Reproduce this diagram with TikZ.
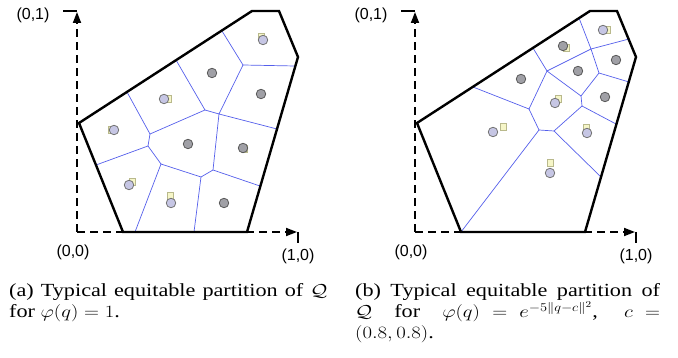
\documentclass[tikz,border=0pt]{standalone}
\usepackage{amsmath,amssymb}
\usepackage{fontspec}
\setmainfont{Liberation Serif}
\newfontfamily\axisfont{Liberation Sans}
\usetikzlibrary{arrows.meta}
\definecolor{cellcol}{RGB}{85,95,235}
\definecolor{sitegray}{RGB}{160,160,166}
\definecolor{sitelav}{RGB}{198,198,228}
\definecolor{sqfill}{RGB}{246,246,200}
\definecolor{sqdraw}{RGB}{185,185,140}
\newcommand{\Qset}{\mathcal{Q}}
\newcommand{\capbox}[2]{\scalebox{1.2}[1]{\parbox[t]{#1}{\fontsize{18.5}{21}\selectfont
  \spaceskip=0.25em plus 0.4em minus 0.08em \thickmuskip=5mu plus 3mu #2}}}

\begin{document}
\begin{tikzpicture}[x=1pt,y=-1pt,
   axisline/.style={line width=1.8pt,dash pattern=on 8pt off 5pt,
                    -{Triangle[length=11pt,width=8pt]}},
   axisbar/.style={line width=1.2pt},
   region/.style={line width=2.4pt,line join=miter},
   cell/.style={cellcol,line width=0.7pt},
   site/.style={circle,draw=black!65,fill=sitegray,inner sep=0pt,
                minimum size=9.5pt,line width=0.8pt},
   sitel/.style={site,draw=black!55,fill=sitelav},
   cent/.style={rectangle,draw=sqdraw,fill=sqfill,inner sep=0pt,
                minimum size=6.5pt,line width=0.5pt},
   lbl/.style={font=\axisfont\fontsize{16}{16}\selectfont,inner sep=0pt}]
  \useasboundingbox (0,0) rectangle (678,358);

  % axes and the region Q, same in both panels
  \foreach \s/\p in {0/a,338/b}{
    \begin{scope}[xshift=\s]
      \coordinate (o\p) at (77,232);
      \coordinate (y\p) at (77,12);
      \coordinate (x\p) at (297,232);
      \draw[axisline] (o\p) -- (y\p);
      \draw[axisline] (o\p) -- (x\p);
      \draw[axisbar] (y\p) ++(0,-1) -- ++(-14,0);
      \draw[axisbar] (x\p) ++(1,0) -- ++(0,11);
      \node[lbl] (l01\p) at (33,15) {(0,1)};
      \node[lbl] (l00\p) at (73,252) {(0,0)};
      \node[lbl] (l10\p) at (298,256) {(1,0)};
    \end{scope}
  }

  % panel (a): cells for phi = 1
  \coordinate (a-A) at (150,134);
  \coordinate (a-B) at (148,146);
  \coordinate (a-C) at (161,164);
  \coordinate (a-D) at (201,177);
  \coordinate (a-E) at (213,170);
  \coordinate (a-F) at (219,114);
  \coordinate (a-G) at (205,110);
  \coordinate (a-H) at (243,65);
  \coordinate (a-e1) at (127,92);
  \coordinate (a-e2) at (176,60);
  \coordinate (a-e3) at (222,31);
  \coordinate (a-e4) at (295,66);
  \coordinate (a-e5) at (277,129);
  \coordinate (a-e6) at (260,186);
  \coordinate (a-e7) at (194,232);
  \coordinate (a-e8) at (135,232);
  \coordinate (a-e9) at (96,165);
  \draw[cell] (a-e1) -- (a-A) -- (a-G) -- (a-e2);
  \draw[cell] (a-G) -- (a-F) -- (a-H) -- (a-e3);
  \draw[cell] (a-H) -- (a-e4);
  \draw[cell] (a-F) -- (a-e5);
  \draw[cell] (a-F) -- (a-E) -- (a-e6);
  \draw[cell] (a-E) -- (a-D) -- (a-e7);
  \draw[cell] (a-D) -- (a-C) -- (a-e8);
  \draw[cell] (a-C) -- (a-B) -- (a-e9);
  \draw[cell] (a-B) -- (a-A);

  % panel (b): cells for the gaussian density
  \begin{scope}[xshift=338]
    \coordinate (b-P) at (191,109);
    \coordinate (b-Q) at (201,130);
    \coordinate (b-R) at (216,131);
    \coordinate (b-T) at (209,71);
    \coordinate (b-U) at (253,49);
    \coordinate (b-V) at (261,73);
    \coordinate (b-W) at (243,96);
    \coordinate (b-X) at (244,106);
    \coordinate (b-e1) at (135,87);
    \coordinate (b-e2) at (195,48);
    \coordinate (b-e3) at (241,18);
    \coordinate (b-e4) at (291,39);
    \coordinate (b-e5) at (291,82);
    \coordinate (b-e6) at (278,124);
    \coordinate (b-e7) at (263,177);
    \coordinate (b-e8) at (123,232);
    \draw[cell] (b-e1) -- (b-P) -- (b-T) -- (b-e2);
    \draw[cell] (b-T) -- (b-U) -- (b-e3);
    \draw[cell] (b-U) -- (b-e4);
    \draw[cell] (b-U) -- (b-V) -- (b-e5);
    \draw[cell] (b-V) -- (b-W) -- (b-T);
    \draw[cell] (b-W) -- (b-X) -- (b-e6);
    \draw[cell] (b-X) -- (b-R) -- (b-e7);
    \draw[cell] (b-R) -- (b-Q) -- (b-P);
    \draw[cell] (b-Q) -- (b-e8);
  \end{scope}

  \foreach \s in {0,338}{
    \draw[region,xshift=\s] (79,123) -- (252,11) -- (279,11) -- (298,57)
         -- (247,232) -- (123,232) -- cycle;
  }

  % centroids and generators, panel (a)
  \node[cent] (a-c1) at (261,37) {};
  \node[cent] (a-c4) at (168,99) {};
  \node[cent] (a-c5) at (111,130) {};
  \node[cent] (a-c7) at (244,149) {};
  \node[cent] (a-c8) at (132,182) {};
  \node[cent] (a-c9) at (170,196) {};
  \node[sitel] (a-s1) at (263,40) {};
  \node[site] (a-s2) at (212,73) {};
  \node[site] (a-s3) at (261,94) {};
  \node[sitel] (a-s4) at (164,99) {};
  \node[sitel] (a-s5) at (114,130) {};
  \node[site] (a-s6) at (188,144) {};
  \node[site] (a-s7) at (243,148) {};
  \node[sitel] (a-s8) at (129,185) {};
  \node[sitel] (a-s9) at (171,203) {};
  \node[site] (a-s10) at (224,203) {};

  % centroids and generators, panel (b)
  \begin{scope}[xshift=338]
    \node[cent] (b-c1) at (269,30) {};
    \node[cent] (b-c2) at (228,48) {};
    \node[cent] (b-c6) at (220,99) {};
    \node[cent] (b-c8) at (165,127) {};
    \node[cent] (b-c9) at (248,128) {};
    \node[cent] (b-c10) at (212,163) {};
    \node[sitel] (b-s1) at (265,30) {};
    \node[site] (b-s2) at (225,46) {};
    \node[site] (b-s3) at (278,60) {};
    \node[site] (b-s4) at (240,71) {};
    \node[site] (b-s5) at (183,79) {};
    \node[sitel] (b-s6) at (217,103) {};
    \node[site] (b-s7) at (267,97) {};
    \node[sitel] (b-s8) at (155,132) {};
    \node[sitel] (b-s9) at (249,133) {};
    \node[sitel] (b-s10) at (212,173) {};
  \end{scope}

  % captions
  \node[anchor=base west,inner sep=0pt] (capa) at (9,297)
    {\capbox{265pt}{(a) Typical equitable partition of $\Qset$\linebreak
     for $\varphi(q)=1$.}};
  \node[anchor=base west,inner sep=0pt] (capb) at (355,297)
    {\capbox{254pt}{(b) Typical equitable partition of\linebreak
     $\Qset$ for $\varphi(q)=e^{-5\|q-c\|^2}$, $c=$\linebreak
     $(0.8,0.8)$.}};
\end{tikzpicture}
\end{document}
